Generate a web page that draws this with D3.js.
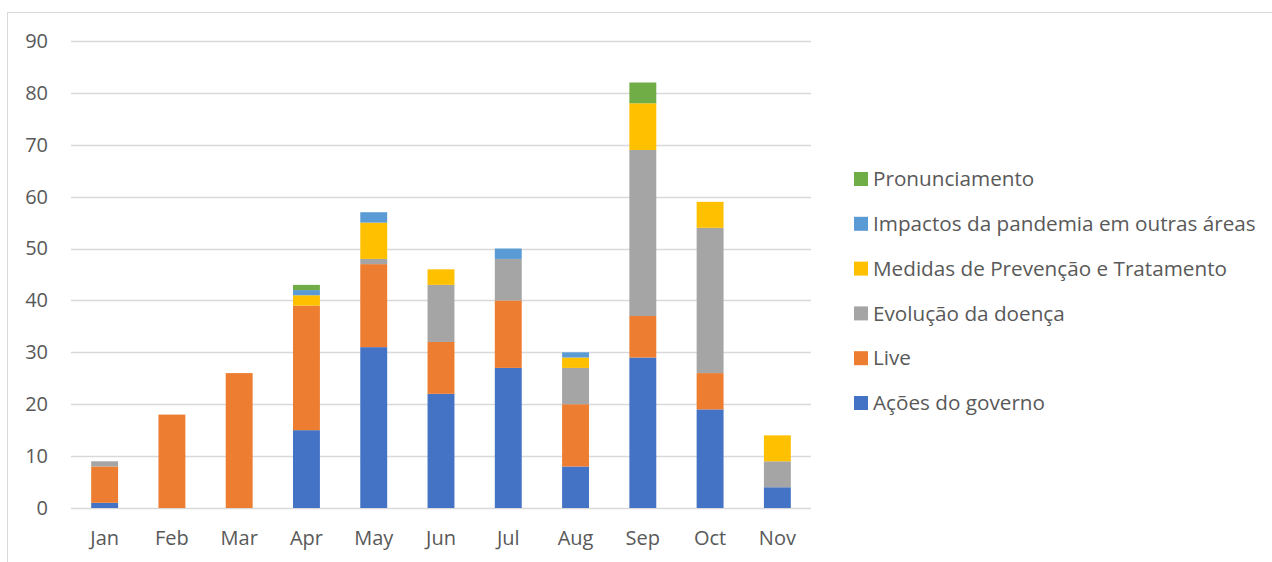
<!DOCTYPE html>
<html>
<head>
<meta charset="utf-8">
<script src="https://cdn.jsdelivr.net/npm/d3@7"></script>
<style>
  body { margin: 0; background: #fff; }
  text { font-family: "Open Sans", Lato, sans-serif; fill: #595959; }
</style>
</head>
<body>
<div id="chart"></div>
<script>
// months on x axis
var months = ["Jan", "Feb", "Mar", "Apr", "May", "Jun", "Jul", "Aug", "Sep", "Oct", "Nov"]
// series, bottom to top of the stack
var seriesNames = ["Ações do governo", "Live", "Evolução da doença", "Medidas de Prevenção e Tratamento", "Impactos da pandemia em outras áreas", "Pronunciamento"]
var seriesColors = ["#4472C4", "#ED7D31", "#A5A5A5", "#FFC000", "#5B9BD5", "#70AD47"]
var acoes      = [1, 0, 0, 15, 31, 22, 27, 8, 29, 19, 4]
var live       = [7, 18, 26, 24, 16, 10, 13, 12, 8, 7, 0]
var evolucao   = [1, 0, 0, 0, 1, 11, 8, 7, 32, 28, 5]
var medidas    = [0, 0, 0, 2, 7, 3, 0, 2, 9, 5, 5]
var impactos   = [0, 0, 0, 1, 2, 0, 2, 1, 0, 0, 0]
var pronunc    = [0, 0, 0, 1, 0, 0, 0, 0, 4, 0, 0]
var yTicks = [0, 10, 20, 30, 40, 50, 60, 70, 80, 90]

var width = 1272, height = 562
var margin = {top: 41, left: 71, right: 461, bottom: 54}

var svg = d3.select("#chart").append("svg")
  .attr("width", width).attr("height", height)

// outer chart border
svg.append("rect")
  .attr("x", 7.5).attr("y", 12.5)
  .attr("width", width - 2).attr("height", height)
  .attr("fill", "none").attr("stroke", "#d9d9d9")

var allSeries = [acoes, live, evolucao, medidas, impactos, pronunc]
var table = months.map(function(m, i) {
  var row = {month: m}
  seriesNames.forEach(function(s, j) { row[s] = allSeries[j][i] })
  return row
})

var x = d3.scaleBand()
  .domain(months)
  .range([margin.left, width - margin.right])
  .paddingInner(0.6).paddingOuter(0.3)

var y = d3.scaleLinear()
  .domain([0, 90])
  .range([height - margin.bottom, margin.top])

// gridlines
svg.append("g")
  .selectAll("line")
  .data(yTicks)
  .enter().append("line")
  .attr("x1", margin.left).attr("x2", width - margin.right)
  .attr("y1", function(d) { return Math.round(y(d)) + 0.5 })
  .attr("y2", function(d) { return Math.round(y(d)) + 0.5 })
  .attr("stroke", "#d9d9d9").attr("stroke-width", 1.3)

// y axis labels
var yAxis = svg.append("g")
  .attr("transform", "translate(" + margin.left + ",0)")
  .call(d3.axisLeft(y).tickValues(yTicks).tickSize(0).tickPadding(23))
yAxis.select(".domain").remove()
yAxis.selectAll("text")
  .style("font-size", "20px").attr("fill", "#595959")
  .style("font-family", "'Open Sans', Lato, sans-serif")

// x axis labels
var xAxis = svg.append("g")
  .attr("transform", "translate(0," + (height - margin.bottom) + ")")
  .call(d3.axisBottom(x).tickSize(0).tickPadding(23))
xAxis.select(".domain").remove()
xAxis.selectAll("text")
  .style("font-size", "20px").attr("fill", "#595959")
  .style("font-family", "'Open Sans', Lato, sans-serif")

var stack = d3.stack().keys(seriesNames)
var layers = stack(table)

svg.append("g")
  .selectAll("g")
  .data(layers)
  .enter().append("g")
  .attr("fill", function(d, i) { return seriesColors[i] })
  .selectAll("rect")
  .data(function(d) { return d })
  .enter().append("rect")
  .filter(function(d) { return d[1] > d[0] })
  .attr("x", function(d) { return x(d.data.month) })
  .attr("width", x.bandwidth())
  .attr("y", function(d) { return y(d[1]) })
  .attr("height", function(d) { return y(d[0]) - y(d[1]) })

// legend, top entry is last series
var legend = svg.append("g")
  .selectAll("g")
  .data(seriesNames.slice().reverse())
  .enter().append("g")
  .attr("transform", function(d, i) { return "translate(854," + (179 + i * 44.8) + ")" })
legend.append("rect")
  .attr("x", 0).attr("y", -7).attr("width", 14).attr("height", 14)
  .attr("fill", function(d) { return seriesColors[seriesNames.indexOf(d)] })
legend.append("text")
  .attr("x", 19).attr("dy", "0.35em")
  .style("font-size", "20.7px")
  .text(function(d) { return d })
</script>
</body>
</html>
